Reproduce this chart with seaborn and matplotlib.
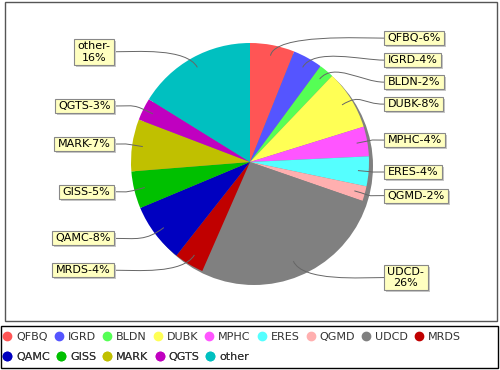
import seaborn as sns
import matplotlib.pyplot as plt
import numpy as np
from matplotlib.patches import Rectangle, Circle, PathPatch
from matplotlib.path import Path
from matplotlib.lines import Line2D

# data
categories = ['QFBQ', 'IGRD', 'BLDN', 'DUBK', 'MPHC', 'ERES', 'QGMD',
              'UDCD', 'MRDS', 'QAMC', 'GISS', 'MARK', 'QGTS', 'other']
shares = [6, 4, 2, 8, 4, 4, 2, 26, 4, 8, 5, 7, 3, 16]
palette = ['#ff5555', '#5555ff', '#55ff55', '#ffff55', '#ff55ff', '#55ffff', '#ffafaf',
           '#808080', '#c00000', '#0000c0', '#00c000', '#c0c000', '#c000c0', '#00c0c0']

sns.set_theme(style='white')
plt.rcParams['font.family'] = ['DejaVu Sans']

W, H = 500, 370
fig = plt.figure(figsize=(5, 3.7), dpi=100)
ax = fig.add_axes([0, 0, 1, 1])

cx, cy, R = 250, H - 162, 119

# pie + shadow
ax.add_patch(Circle((cx + 4, cy - 4), R, color='#808080', lw=0, zorder=0.5))
wedges, _ = ax.pie(shares, colors=palette, startangle=90, counterclock=False,
                   center=(cx, cy), radius=R,
                   wedgeprops=dict(edgecolor='none', linewidth=0, zorder=1))
ax.set_xlim(0, W)
ax.set_ylim(0, H)
ax.axis('off')

# label positions: projected on link radius, then spread out to avoid overlaps
mids = [np.deg2rad((w.theta1 + w.theta2) / 2) for w in wedges]
texts = [f'{c}-\n{s}%' if s >= 10 else f'{c}-{s}%' for c, s in zip(categories, shares)]
heights = [30 if '\n' in t else 16 for t in texts]
label_y = [cy + 1.06 * R * np.sin(a) for a in mids]
for side in (1, -1):
    idx = [i for i, a in enumerate(mids) if np.sign(np.cos(a) + 1e-9) == side]
    idx.sort(key=lambda i: -label_y[i])
    for p, q in zip(idx[:-1], idx[1:]):
        gap = (heights[p] + heights[q]) / 2 + 6
        label_y[q] = min(label_y[q], label_y[p] - gap)

renderer = fig.canvas.get_renderer()
for i, txt in enumerate(texts):
    a = mids[i]
    px, py = cx + 0.91 * R * np.cos(a), cy + 0.91 * R * np.sin(a)
    ex, ey = cx + 1.1 * R * np.cos(a), cy + 1.1 * R * np.sin(a)
    ly = label_y[i]
    if np.cos(a) >= 0:
        bx, sign, ha = 384, 1, 'left'
    else:
        bx, sign, ha = 114, -1, 'right'
    verts = [(px, py), (ex, ey), (bx - sign * 22, ly), (bx, ly)]
    path = Path(verts, [Path.MOVETO, Path.CURVE4, Path.CURVE4, Path.CURVE4])
    ax.add_patch(PathPatch(path, fc='none', ec='#666666', lw=0.7, zorder=3))
    t = ax.text(bx + sign * 3.5, ly, txt, ha=ha, va='center', multialignment='center',
                fontsize=8, color='black', zorder=5)
    bb = t.get_window_extent(renderer)
    x0, y0, w, h = bb.x0 - 3.5, bb.y0 - 2, bb.width + 7, bb.height + 4
    ax.add_patch(Rectangle((x0 + 2, y0 - 2), w, h, fc='#c8c8c8', ec='none', zorder=4))
    ax.add_patch(Rectangle((x0, y0), w, h, fc='#ffffc0', ec='#888888', lw=0.8, zorder=4.5))

# borders
ax.add_patch(Rectangle((5, H - 321), 492, 319, fill=False, ec='#555555', lw=1, zorder=6))
ax.add_patch(Rectangle((1, H - 368), 497, 42, fill=False, ec='black', lw=1, zorder=6))


# legend, two flowing rows
def legend_row(idx, y):
    handles = [Line2D([], [], marker='o', ls='', markersize=6,
                      markerfacecolor=palette[i], markeredgecolor=palette[i]) for i in idx]
    leg = ax.legend(handles, [categories[i] for i in idx], ncol=len(idx),
                    loc='center left', bbox_to_anchor=(3, H - y),
                    bbox_transform=ax.transData, frameon=False, fontsize=8,
                    labelcolor='#333333', handlelength=0.8, handletextpad=0.4,
                    columnspacing=0.6, borderpad=0, borderaxespad=0)
    ax.add_artist(leg)


legend_row(range(0, 9), 337)
legend_row(range(9, 14), 357)

fig.savefig('out.png', dpi=100, facecolor='white')
